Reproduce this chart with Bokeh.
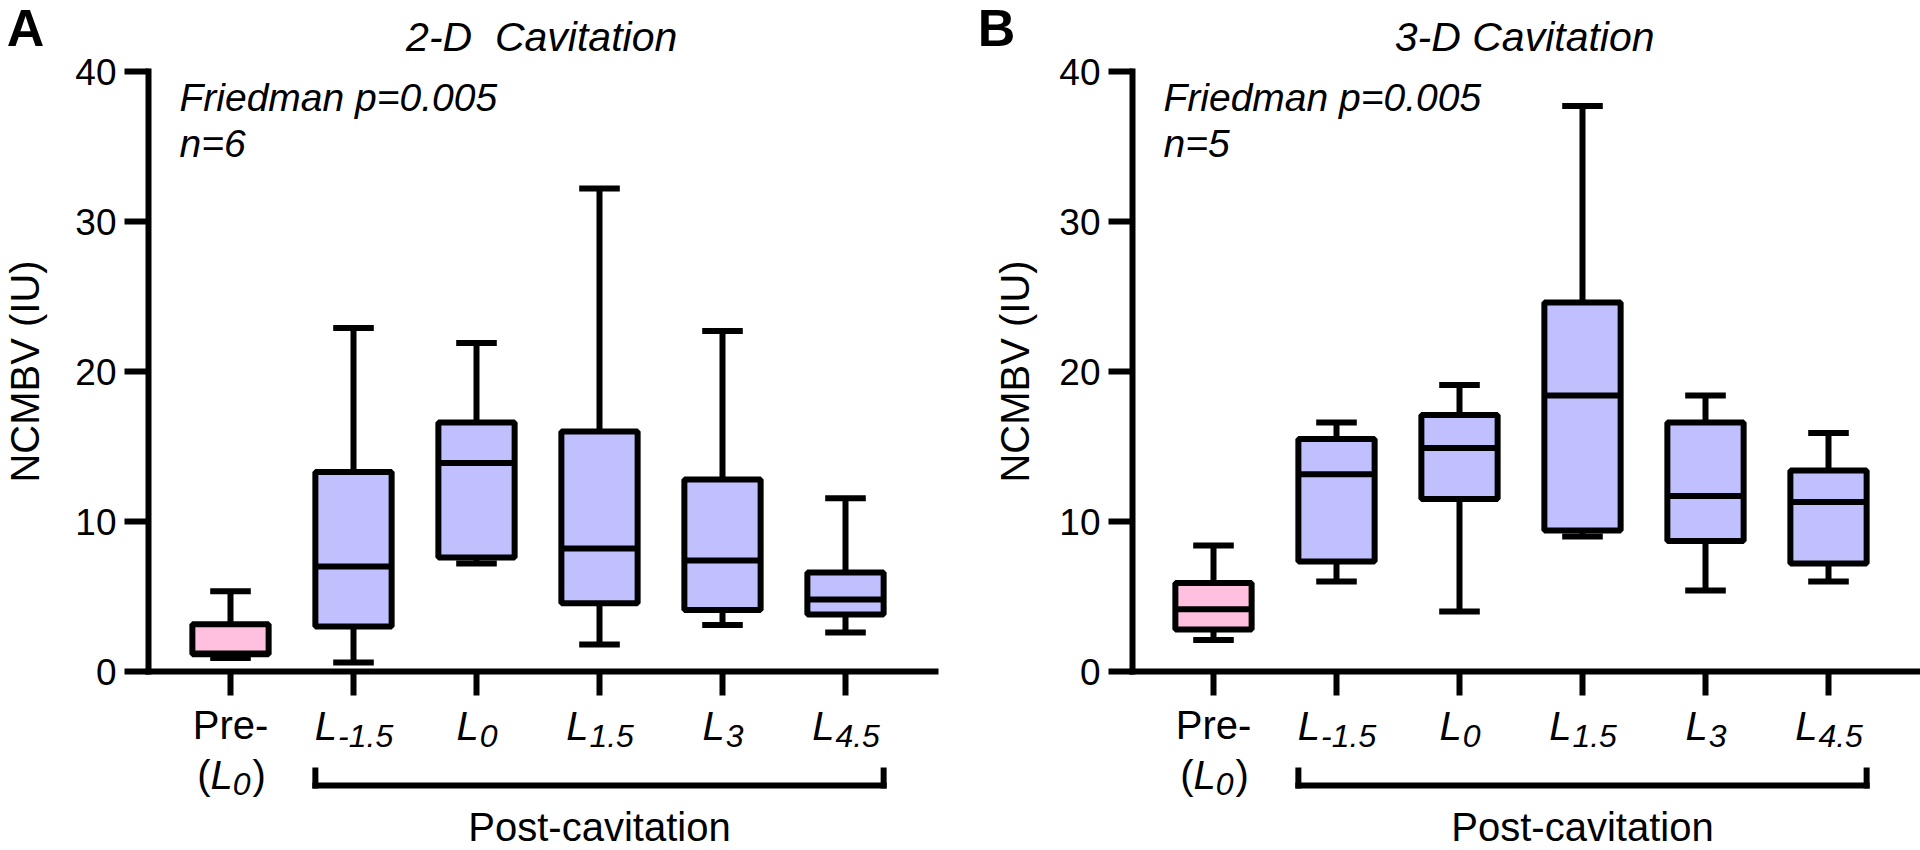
from bokeh.plotting import figure
from bokeh.models import Label, Arrow, FixedTicker, Range1d
from bokeh.layouts import row
from bokeh.embed import file_html
from bokeh.resources import INLINE

# ---------------- data ----------------
categories = ["Pre-(L0)", "L-1.5", "L0", "L1.5", "L3", "L4.5"]
subscripts = ["", "-1.5", "0", "1.5", "3", "4.5"]
y_ticks = [0, 10, 20, 30, 40]

# Panel A: 2-D cavitation (n=6)
a_min = [0.9, 0.6, 7.2, 1.8, 3.1, 2.6]
a_q1 = [1.15, 3.0, 7.6, 4.55, 4.1, 3.8]
a_med = [1.2, 7.0, 13.9, 8.2, 7.4, 4.8]
a_q3 = [3.15, 13.3, 16.6, 16.0, 12.8, 6.6]
a_max = [5.35, 22.9, 21.9, 32.2, 22.7, 11.55]

# Panel B: 3-D cavitation (n=5)
b_min = [2.1, 6.0, 4.0, 9.0, 5.4, 6.0]
b_q1 = [2.8, 7.33, 11.5, 9.4, 8.7, 7.2]
b_med = [4.15, 13.15, 14.9, 18.4, 11.7, 11.3]
b_q3 = [5.9, 15.5, 17.1, 24.6, 16.6, 13.4]
b_max = [8.4, 16.6, 19.1, 37.7, 18.4, 15.9]

PINK = "#FFBFDF"
LAV = "#C0C0FF"
FONT = "Liberation Sans"

# approx Arial advance widths (em) for centering composite labels
ADV = {"L": 0.556, "(": 0.333, ")": 0.333, "-": 0.333, ".": 0.278}
for d in "0123456789":
    ADV[d] = 0.556


def tw(s, size):
    return sum(ADV.get(c, 0.556) for c in s) * size


FIG_W, FIG_H = 960, 850
PXU = 123.0      # px per category unit
PXY = 15.0       # px per y unit
Y0_PIX = 671.0   # pixel row of value 0 (from top)
TEXT_SHIFT = 14  # rendered baseline sits this much lower than requested


def yv(pix_y):
    return (Y0_PIX - pix_y) / PXY


def make_panel(letter, title, n_text, vmin, q1, med, q3, vmax,
               cat0_pix, axis_pix, axis_end, ylab_standoff, letter_pix):
    x_lo = -cat0_pix / PXU
    x_hi = x_lo + FIG_W / PXU
    y_lo = yv(FIG_H)
    y_hi = yv(0)
    p = figure(width=FIG_W, height=FIG_H, output_backend="svg", toolbar_location=None,
               x_range=Range1d(x_lo, x_hi), y_range=Range1d(y_lo, y_hi),
               min_border=0)
    p.outline_line_color = None
    p.xgrid.visible = False
    p.ygrid.visible = False
    p.background_fill_color = "white"
    p.border_fill_color = "white"

    y_axis_x = (axis_pix - cat0_pix) / PXU
    xs = list(range(len(categories)))

    for ax in (p.xaxis[0], p.yaxis[0]):
        ax.axis_line_width = 6
        ax.axis_line_color = "black"
        ax.axis_line_cap = "square"
        ax.major_tick_line_width = 6
        ax.major_tick_line_color = "black"
        ax.major_tick_out = 24
        ax.major_tick_in = 0
        ax.minor_tick_line_color = None

    yax = p.yaxis[0]
    yax.fixed_location = y_axis_x
    yax.bounds = (0, 40)
    yax.ticker = FixedTicker(ticks=y_ticks)
    yax.major_label_text_font = FONT
    yax.major_label_text_font_size = "37px"
    yax.major_label_text_color = "black"
    yax.major_label_standoff = 8
    yax.axis_label = "NCMBV (IU)"
    yax.axis_label_text_font = FONT
    yax.axis_label_text_font_size = "40px"
    yax.axis_label_text_font_style = "normal"
    yax.axis_label_text_color = "black"
    yax.axis_label_standoff = ylab_standoff

    xax = p.xaxis[0]
    xax.fixed_location = 0
    xax.bounds = (y_axis_x, axis_end)
    xax.ticker = FixedTicker(ticks=xs)
    xax.major_label_overrides = {i: "" for i in xs}
    xax.major_label_text_font_size = "1px"

    fills = [PINK] + [LAV] * (len(categories) - 1)
    hw = 0.31
    cw = 0.165
    # whiskers
    p.segment(x0=xs, y0=q3, x1=xs, y1=vmax, line_width=6, line_color="black")
    p.segment(x0=xs, y0=q1, x1=xs, y1=vmin, line_width=6, line_color="black")
    # caps
    p.segment(x0=[x - cw for x in xs], y0=vmax, x1=[x + cw for x in xs], y1=vmax,
              line_width=6, line_color="black")
    p.segment(x0=[x - cw for x in xs], y0=vmin, x1=[x + cw for x in xs], y1=vmin,
              line_width=6, line_color="black")
    # boxes
    p.vbar(x=xs, top=q3, bottom=q1, width=2 * hw, fill_color=fills,
           line_color="black", line_width=6)
    # medians
    p.segment(x0=[x - hw for x in xs], y0=med, x1=[x + hw for x in xs], y1=med,
              line_width=6, line_color="black")

    def lab(x, pix_y, text, size, style="normal", align="left", dx=0):
        p.add_layout(Label(x=x, y=yv(pix_y - TEXT_SHIFT), text=text, text_font=FONT,
                           text_font_size=f"{size}px", text_font_style=style,
                           text_align=align, text_baseline="alphabetic", x_offset=dx,
                           text_color="black"))

    # panel letter, title, stats
    lab((letter_pix - cat0_pix) / PXU, 41, letter, 52, "bold", "center")
    lab(2.53, 50, title, 41, "italic", "center")
    lab(y_axis_x + 0.252, 111, "Friedman p=0.005", 39, "italic", "left")
    lab(y_axis_x + 0.252, 157, n_text, 39, "italic", "left")

    # category labels
    MAIN, SUB = 40, 32
    lab(0, 738, "Pre-", MAIN, "normal", "center")
    w_open = tw("(", MAIN)
    w_L = tw("L", MAIN)
    w_sub0 = tw(subscripts[2], SUB)
    w_close = tw(")", MAIN)
    tot = w_open + w_L + w_sub0 + w_close
    left = -tot / 2
    lab(0, 788, "(", MAIN, "normal", "left", left)
    lab(0, 788, "L", MAIN, "italic", "left", left + w_open)
    lab(0, 797, subscripts[2], SUB, "italic", "left", left + w_open + w_L)
    lab(0, 788, ")", MAIN, "normal", "left", left + w_open + w_L + w_sub0 + 2)
    for i in xs[1:]:
        s = subscripts[i]
        tot = w_L + tw(s, SUB)
        left = -tot / 2
        lab(i, 739, "L", MAIN, "italic", "left", left)
        lab(i, 749, s, SUB, "italic", "left", left + w_L + 1)

    # bracket under post-cavitation groups
    bx0, bx1 = xs[1] - hw, xs[-1] + hw
    yb, yt = yv(785), yv(770)
    for (xa, ya, xb, yb2) in [(bx0, yb, bx1, yb), (bx0, yb, bx0, yt), (bx1, yb, bx1, yt)]:
        p.add_layout(Arrow(x_start=xa, y_start=ya, x_end=xb, y_end=yb2, start=None, end=None,
                           line_width=6, line_color="black", line_cap="square"))
    lab((xs[1] + xs[-1]) / 2, 840, "Post-cavitation", 40, "normal", "center")
    return p


pA = make_panel("A", "2-D\u00a0 Cavitation", "n=6", a_min, a_q1, a_med, a_q3, a_max,
                cat0_pix=230, axis_pix=148, axis_end=5.732, ylab_standoff=25, letter_pix=25)
pB = make_panel("B", "3-D Cavitation", "n=5", b_min, b_q1, b_med, b_q3, b_max,
                cat0_pix=253, axis_pix=172, axis_end=5.74, ylab_standoff=19, letter_pix=36)

layout = row(pA, pB)
open("out.html", "w").write(file_html(layout, INLINE))
